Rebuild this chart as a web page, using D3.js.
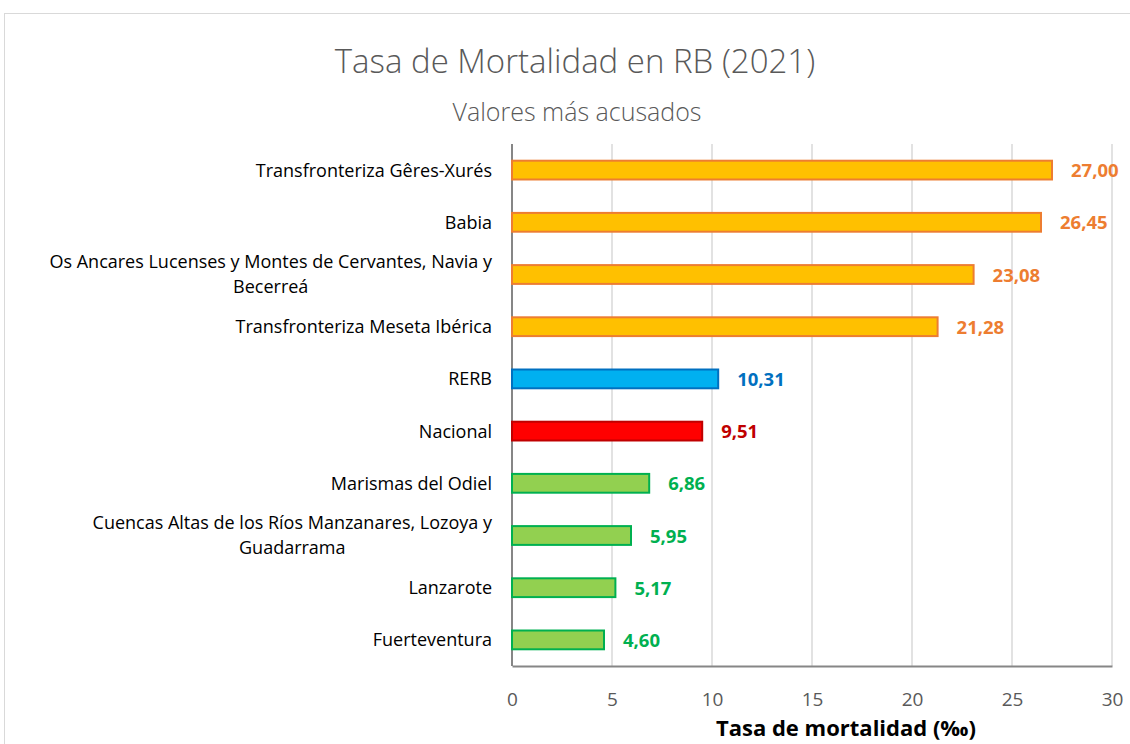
<!DOCTYPE html>
<html>
<head>
<meta charset="utf-8">
<script src="https://cdn.jsdelivr.net/npm/d3@7"></script>
<style>
  body { margin: 0; background: #fff; }
  svg { display: block; font-family: "Open Sans", "Noto Sans", sans-serif; }
</style>
</head>
<body>
<svg id="chart" width="1130" height="744"></svg>
<script>
// Data
const categories = [
  "Transfronteriza Gêres-Xurés",
  "Babia",
  "Os Ancares Lucenses y Montes de Cervantes, Navia y|Becerreá",
  "Transfronteriza Meseta Ibérica",
  "RERB",
  "Nacional",
  "Marismas del Odiel",
  "Cuencas Altas de los Ríos Manzanares, Lozoya y|Guadarrama",
  "Lanzarote",
  "Fuerteventura"
];
const values = [27.00, 26.45, 23.08, 21.28, 10.31, 9.51, 6.86, 5.95, 5.17, 4.60];
const groups = ["alto", "alto", "alto", "alto", "rerb", "nacional", "bajo", "bajo", "bajo", "bajo"];
const xTicks = [0, 5, 10, 15, 20, 25, 30];

const palette = {
  alto:     { fill: "#FFC000", stroke: "#ED7D31", label: "#ED7D31" },
  rerb:     { fill: "#00B0F0", stroke: "#0070C0", label: "#0070C0" },
  nacional: { fill: "#FF0000", stroke: "#C00000", label: "#C00000" },
  bajo:     { fill: "#92D050", stroke: "#00B050", label: "#00B050" }
};

const data = categories.map((c, i) => ({ cat: c, value: values[i], group: groups[i] }));

const svg = d3.select("#chart");
const margin = { left: 512, right: 18, top: 144, bottom: 78 };
const W = 1130, H = 744;

// chart border
svg.append("rect")
  .attr("x", 4.5).attr("y", 13.5)
  .attr("width", 1140).attr("height", 760)
  .attr("fill", "none").attr("stroke", "#d9d9d9");

// titles
svg.append("text")
  .attr("x", 575).attr("y", 73)
  .attr("text-anchor", "middle")
  .attr("font-size", 33).attr("font-weight", 300)
  .attr("fill", "#595959")
  .text("Tasa de Mortalidad en RB (2021)");

svg.append("text")
  .attr("x", 577).attr("y", 121)
  .attr("text-anchor", "middle")
  .attr("font-size", 25).attr("font-weight", 300)
  .attr("fill", "#595959")
  .text("Valores más acusados");

const x = d3.scaleLinear()
  .domain([0, 30])
  .range([margin.left, W - margin.right]);

const y = d3.scaleBand()
  .domain(categories)
  .range([margin.top, H - margin.bottom])
  .paddingInner(0.64)
  .paddingOuter(0.32);

// gridlines
svg.append("g")
  .selectAll("line")
  .data(xTicks.slice(1))
  .enter()
  .append("line")
  .attr("x1", d => x(d)).attr("x2", d => x(d))
  .attr("y1", margin.top).attr("y2", H - margin.bottom)
  .attr("stroke", "#d9d9d9").attr("stroke-width", 1.5);

// x axis
const xAxis = svg.append("g")
  .attr("transform", "translate(0," + (H - margin.bottom) + ")")
  .call(d3.axisBottom(x).tickValues(xTicks).tickSize(0).tickPadding(27));
xAxis.select(".domain").attr("stroke", "#868686").attr("stroke-width", 2);
xAxis.selectAll("text")
  .attr("font-family", "'Open Sans', sans-serif")
  .attr("font-size", 19).attr("font-weight", 400)
  .attr("fill", "#595959");

// y axis line
svg.append("line")
  .attr("x1", margin.left).attr("x2", margin.left)
  .attr("y1", margin.top).attr("y2", H - margin.bottom)
  .attr("stroke", "#868686").attr("stroke-width", 2);

// bars
svg.append("g")
  .selectAll("rect")
  .data(data)
  .enter()
  .append("rect")
  .attr("x", x(0))
  .attr("y", d => y(d.cat))
  .attr("width", d => x(d.value) - x(0))
  .attr("height", y.bandwidth())
  .attr("fill", d => palette[d.group].fill)
  .attr("stroke", d => palette[d.group].stroke)
  .attr("stroke-width", 2);

// value labels
const fmt = v => d3.format(".2f")(v).replace(".", ",");
svg.append("g")
  .selectAll("text")
  .data(data)
  .enter()
  .append("text")
  .attr("x", d => x(d.value) + 19)
  .attr("y", d => y(d.cat) + y.bandwidth() / 2)
  .attr("dy", "0.38em")
  .attr("font-size", 18.5).attr("font-weight", 700)
  .attr("fill", d => palette[d.group].label)
  .text(d => fmt(d.value));

// category labels (wrapped lines centred within a right-aligned block)
const labelRight = 492;
const catG = svg.append("g");
data.forEach(d => {
  const lines = d.cat.split("|");
  const cy = y(d.cat) + y.bandwidth() / 2;
  const lineH = 25;
  const t = catG.append("text")
    .attr("font-size", 18)
    .attr("fill", "#000");
  lines.forEach((ln, i) => {
    t.append("tspan").text(ln)
      .attr("y", cy + (i - (lines.length - 1) / 2) * lineH)
      .attr("dy", "0.36em");
  });
  const widths = t.selectAll("tspan").nodes().map(n => n.getComputedTextLength());
  const maxW = d3.max(widths);
  t.selectAll("tspan")
    .attr("text-anchor", "middle")
    .attr("x", lines.length > 1 ? labelRight - maxW / 2 : labelRight - widths[0] / 2);
});

// axis title
svg.append("text")
  .attr("x", 846).attr("y", 736)
  .attr("text-anchor", "middle")
  .attr("font-size", 22).attr("font-weight", 700)
  .attr("fill", "#000")
  .text("Tasa de mortalidad (‰)");
</script>
</body>
</html>
